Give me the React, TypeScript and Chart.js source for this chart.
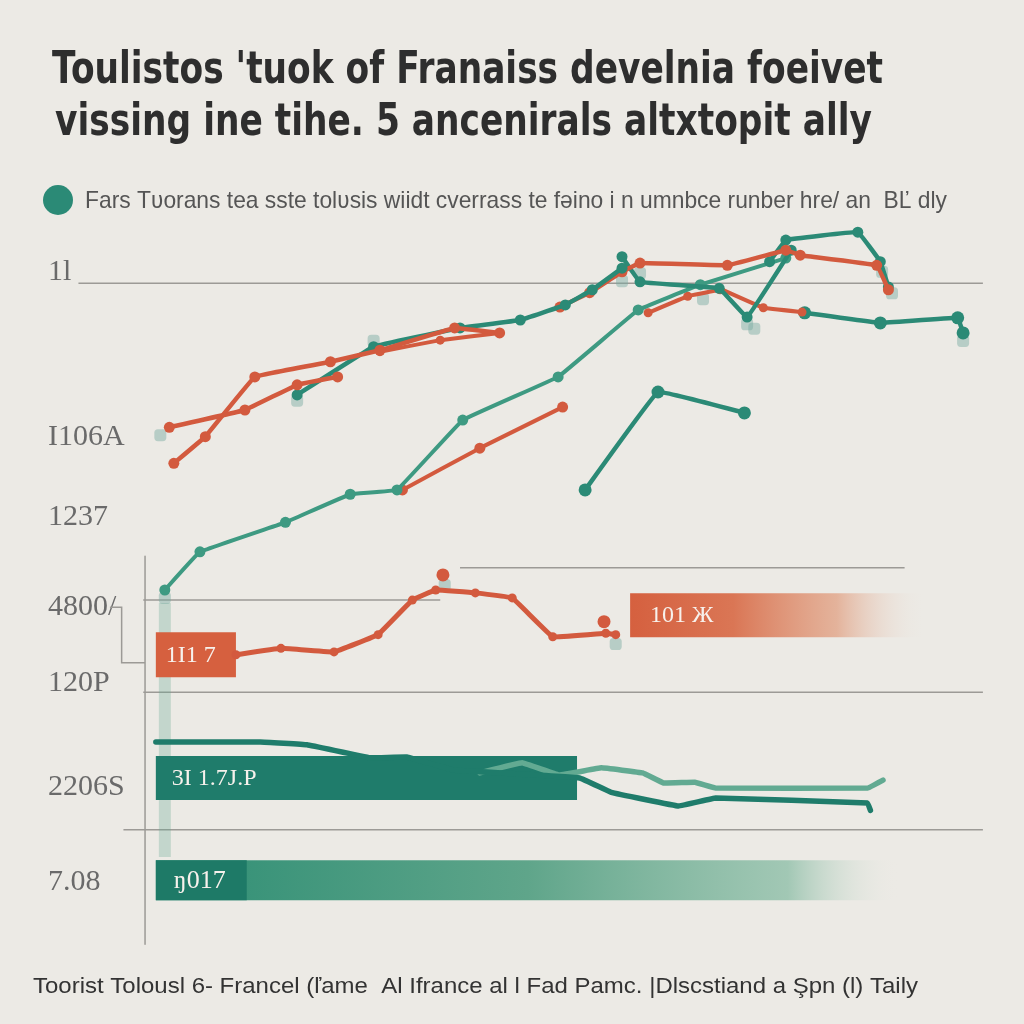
import React, { useEffect, useRef } from "react";
import { Chart, registerables } from "chart.js";

Chart.register(...registerables);

const BG = "#ECEAE5";
const RED = "#D35A3E";
const TEAL = "#1F7C6B";
const TEAL_MID = "#2B8A76";
const TEAL_LIGHT = "#62AA92";
const GRID = "#9C9A96";

const titleLines = [
  "Toulistos 'tuok of Franaiss develnia foeivet",
  "vissing ine tihe. 5 ancenirals altxtopit ally",
];
const legendLabel =
  "Fars Tʋorans tea sste tolʋsis wiidt cverrass te fəino i n umnbce runber hre/ an  BĽ dly";
const caption =
  "Toorist Tolousl 6- Francel (ľame  Al Ifrance al l Fad Pamc. |Dlscstiand a Şpn (l) Taily";

const yTickValues = [94.2, 71.3, 60.1, 47.6, 37.1, 22.6, 9.4];
const yTickLabels = ["1l", "I106A", "1237", "4800/", "120P", "2206S", "7.08"];
const xRange = [4.44, 100];

// line series [x, y]
const redUpperA = [[7.7, 72.6], [16.1, 75.0], [21.9, 78.5], [26.4, 79.6]];
const redUpperB = [[8.2, 67.6], [11.7, 71.3], [17.2, 79.6], [25.6, 81.7], [31.1, 83.3], [39.4, 86.4], [44.4, 85.7]];
const redUpperC = [[31.1, 83.1], [37.8, 84.7], [44.4, 85.7]];
const tealUpperA = [[21.9, 77.1], [30.4, 83.8], [40.0, 86.4], [46.7, 87.5], [51.7, 89.6], [54.7, 91.7], [58.0, 94.7]];
const redTop = [[51.1, 89.3], [54.4, 91.3], [58.0, 94.2], [60.0, 95.4], [69.7, 95.1], [76.2, 97.2], [77.8, 96.5], [86.3, 95.1], [87.6, 91.7]];
const tealTopA = [[58.0, 96.3], [60.0, 92.8], [68.8, 91.9], [71.9, 87.9], [76.8, 97.2]];
const tealTopB = [[74.4, 95.6], [76.2, 98.6], [84.2, 99.7], [86.7, 95.6], [87.6, 92.1]];
const tealLong = [[7.2, 50.0], [11.1, 55.3], [20.6, 59.4], [27.8, 63.3], [33.0, 63.9], [40.3, 73.6], [50.9, 79.6], [59.8, 88.9], [66.7, 92.4], [76.2, 96.1]];
const redShort = [[33.6, 63.9], [42.2, 69.7], [51.4, 75.4]];
const tealShort = [[53.9, 63.9], [62.0, 77.5], [71.6, 74.6]];
const redSmallA = [[60.9, 88.5], [65.3, 90.8], [68.9, 91.7]];
const redSmallB = [[68.8, 91.9], [73.7, 89.2], [78.0, 88.6]];
const tealRight = [[78.3, 88.5], [86.7, 87.1], [95.3, 87.8], [95.9, 85.7]];
const redLower = [[15.1, 41.0], [20.1, 41.9], [26.0, 41.4], [30.9, 43.8], [34.7, 48.6], [37.3, 50.0], [41.7, 49.6], [45.8, 48.9], [50.3, 43.5], [56.2, 44.0], [57.3, 43.8]];
const redLowerMarks = [[38.1, 52.1], [56.0, 45.6]];
const tealLowerDark = [[6.2, 28.9], [17.8, 28.9], [23.0, 28.5], [30.0, 26.7], [34.1, 26.8], [39.3, 25.0], [53.3, 23.9], [56.8, 21.9], [64.3, 20.0], [68.4, 21.1], [85.3, 20.4], [85.6, 19.4]];
const tealLowerLight = [[42.2, 24.6], [46.9, 26.0], [51.0, 24.3], [55.7, 25.3], [60.3, 24.6], [62.6, 23.2], [66.1, 23.3], [68.4, 22.5], [85.3, 22.5], [87.0, 23.6]];
const ghostMarks = [[6.7, 71.5], [21.9, 76.3], [30.4, 84.6], [58.0, 92.9], [60.0, 94.0], [67.0, 90.4], [86.9, 94.2], [88.0, 91.2], [57.3, 42.5], [38.3, 50.7], [7.2, 48.9], [95.9, 84.6], [71.9, 86.9], [72.7, 86.3]];

// floating bars: [xStart, xEnd, y], labels
const redBar = [58.9, 91.7, 46.5];
const redBox = [6.2, 15.1, 41.0];
const tealBand = [6.2, 53.0, 23.9];
const tealBar = [6.2, 88.8, 9.7];
const tealBarHead = [6.2, 16.3, 9.7];
const tealStrip = [7.2, 48.2, 12.9];
const barLabels = ["101 Ж", "1I1 7", "3I 1.7J.P", "ŋ017"];

// rule lines [x0, x1, y]
const rules = [
  [-2.4, 98.1, 92.6],
  [4.8, 37.8, 48.6],
  [40.0, 89.4, 53.1],
  [4.8, 98.1, 35.8],
  [2.6, 98.1, 16.7],
];
const axisLine = [[5.0, 54.7], [5.0, 0.8]];
const bracket = [[1.1, 47.6], [2.4, 47.6], [2.4, 39.9], [5.0, 39.9]];

const pts = (a: number[][]) => a.map(([x, y]) => ({ x, y }));

function lineDs(data: number[][], color: string, width = 4.5, radius = 5.5) {
  return {
    data: pts(data),
    borderColor: color,
    backgroundColor: color,
    pointBackgroundColor: color,
    pointBorderWidth: 0,
    pointRadius: radius,
    borderWidth: width,
    tension: 0.05,
    borderJoinStyle: "round" as const,
    borderCapStyle: "round" as const,
    clip: false as const,
    order: 1,
  };
}

function barDs(bar: number[], thickness: number, color: any, order = 5) {
  return {
    data: [{ x: bar[0], y: bar[2] }, { x: bar[1], y: bar[2] }],
    borderColor: color,
    borderWidth: thickness,
    borderCapStyle: "butt" as const,
    pointRadius: 0,
    tension: 0,
    clip: false as const,
    order,
  };
}

function gradient(bar: number[], stops: [number, string][]) {
  return (ctx: any) => {
    const chart = ctx.chart;
    const xs = chart.scales?.x;
    if (!chart.chartArea || !xs) return stops[0][1];
    const x0 = xs.getPixelForValue(bar[0]);
    const x1 = xs.getPixelForValue(bar[1]);
    const g = chart.ctx.createLinearGradient(x0, 0, x1, 0);
    stops.forEach(([o, c]) => g.addColorStop(o, c));
    return g;
  };
}

function fitText(ctx: CanvasRenderingContext2D, text: string, x: number, y: number, width: number, font: string, color: string) {
  ctx.save();
  ctx.font = font;
  ctx.fillStyle = color;
  ctx.textBaseline = "alphabetic";
  ctx.textAlign = "left";
  const w = ctx.measureText(text).width;
  ctx.translate(x, y);
  ctx.scale(width / w, 1);
  ctx.fillText(text, 0, 0);
  ctx.restore();
}

const decorPlugin = {
  id: "decor",
  beforeDraw(chart: any) {
    const ctx = chart.ctx;
    ctx.save();
    ctx.fillStyle = BG;
    ctx.fillRect(0, 0, chart.width, chart.height);
    ctx.restore();
  },
  afterDraw(chart: any) {
    const ctx: CanvasRenderingContext2D = chart.ctx;
    const xs = chart.scales.x;
    const ys = chart.scales.y;
    // title
    fitText(ctx, titleLines[0], 52, 83, 831, 'bold 44px "DejaVu Sans", sans-serif', "#2E2E2E");
    fitText(ctx, titleLines[1], 55, 135, 817, 'bold 44px "DejaVu Sans", sans-serif', "#2E2E2E");
    // legend
    ctx.save();
    ctx.fillStyle = TEAL_MID;
    ctx.beginPath();
    ctx.arc(58, 200, 15, 0, Math.PI * 2);
    ctx.fill();
    ctx.restore();
    fitText(ctx, legendLabel, 85, 208, 862, '24px "Liberation Sans", sans-serif', "#555555");
    // caption
    fitText(ctx, caption, 33, 993, 885, '22px "Liberation Sans", sans-serif', "#333333");
    // bar labels
    const labelAt = (bar: number[], text: string, pad: number, size: number) => {
      ctx.save();
      ctx.font = `${size}px "Liberation Serif", serif`;
      ctx.fillStyle = "#F7F1EC";
      ctx.textBaseline = "middle";
      ctx.textAlign = "left";
      ctx.fillText(text, xs.getPixelForValue(bar[0]) + pad, ys.getPixelForValue(bar[2]) + 1);
      ctx.restore();
    };
    labelAt(redBar, barLabels[0], 20, 24);
    labelAt(redBox, barLabels[1], 10, 24);
    labelAt(tealBand, barLabels[2], 16, 24);
    labelAt(tealBarHead, barLabels[3], 18, 26);
  },
};

export default function App() {
  const ref = useRef<HTMLCanvasElement | null>(null);

  useEffect(() => {
    document.body.style.background = BG;
    const canvas = ref.current;
    if (!canvas) return;

    const datasets: any[] = [];
    rules.forEach((r) => datasets.push(barDs(r, 1.5, GRID, 30)));
    datasets.push({ ...lineDs(axisLine, GRID, 1.5, 0), order: 30, tension: 0 });
    datasets.push({ ...lineDs(bracket, GRID, 1.5, 0), order: 30, tension: 0, borderCapStyle: "butt", borderJoinStyle: "miter" });

    datasets.push({
      ...barDs([tealStrip[0], tealStrip[0], 0], 12, "rgba(98,170,146,0.3)", 20),
      data: [{ x: tealStrip[0], y: tealStrip[1] }, { x: tealStrip[0], y: tealStrip[2] }],
    });
    datasets.push(
      barDs(redBar, 44, gradient(redBar, [[0, "#D5603F"], [0.35, "#DA7655"], [0.7, "rgba(225,160,130,0.75)"], [1, "rgba(236,234,229,0)"]]), 10)
    );
    datasets.push(barDs(redBox, 45, "#D6603F", 10));
    datasets.push(barDs(tealBand, 44, TEAL, 10));
    datasets.push(
      barDs(tealBar, 40, gradient(tealBar, [[0, "#2E8E74"], [0.5, "#5FA58A"], [0.85, "rgba(130,185,160,0.7)"], [1, "rgba(236,234,229,0)"]]), 11)
    );
    datasets.push(barDs(tealBarHead, 40, "#1E7A67", 9));

    datasets.push({
      data: pts(ghostMarks),
      showLine: false,
      pointStyle: "rectRounded",
      pointRadius: 7,
      pointBackgroundColor: "rgba(120,170,160,0.45)",
      pointBorderWidth: 0,
      clip: false,
      order: 2,
    });

    datasets.push(lineDs(redUpperA, RED));
    datasets.push(lineDs(redUpperB, RED));
    datasets.push(lineDs(redUpperC, RED, 4, 4.5));
    datasets.push(lineDs(tealUpperA, TEAL_MID));
    datasets.push(lineDs(redTop, RED));
    datasets.push(lineDs(tealTopA, TEAL_MID));
    datasets.push(lineDs(tealTopB, TEAL_MID));
    datasets.push(lineDs(tealLong, "#3E9A82", 4, 5.5));
    datasets.push(lineDs(redShort, RED, 4, 5.5));
    datasets.push(lineDs(tealShort, TEAL_MID, 4.5, 6.5));
    datasets.push(lineDs(redSmallA, RED, 4, 4.5));
    datasets.push(lineDs(redSmallB, RED, 4, 4.5));
    datasets.push(lineDs(tealRight, TEAL_MID, 4.5, 6.5));
    datasets.push(lineDs(redLower, RED, 5, 4.5));
    datasets.push({ ...lineDs(redLowerMarks, RED, 0, 6.5), showLine: false });
    datasets.push(lineDs(tealLowerDark, TEAL, 5.5, 0));
    datasets.push(lineDs(tealLowerLight, TEAL_LIGHT, 5.5, 0));

    const setX = (s: any) => {
      s.min = xRange[0];
      s.max = xRange[1];
    };

    const chart = new Chart(canvas, {
      type: "line",
      data: { datasets },
      options: {
        animation: false,
        responsive: false,
        devicePixelRatio: 1,
        layout: { padding: { top: 230, bottom: 74, left: 48, right: 24 } },
        plugins: {
          legend: { display: false },
          tooltip: { enabled: false },
          title: { display: false },
        },
        scales: {
          x: {
            type: "linear",
            display: false,
            bounds: "data",
            afterDataLimits: setX,
            afterBuildTicks: setX,
          },
          y: {
            type: "linear",
            min: 0,
            max: 100,
            position: "left",
            afterFit: (s: any) => {
              s.width = 92;
            },
            afterBuildTicks: (s: any) => {
              s.ticks = yTickValues.map((v) => ({ value: v }));
            },
            grid: { display: false },
            border: { display: false },
            ticks: {
              autoSkip: false,
              crossAlign: "far",
              padding: 0,
              color: "#6A6A6A",
              font: { family: '"Liberation Serif", serif', size: 30 },
              callback: (_v: any, i: number) => yTickLabels[i],
            },
          },
        },
      } as any,
      plugins: [decorPlugin],
    });
    return () => chart.destroy();
  }, []);

  return (
    <div style={{ position: "absolute", left: 0, top: 0, width: 1024, height: 1024, background: BG }}>
      <canvas ref={ref} width={1024} height={1024} style={{ display: "block", width: 1024, height: 1024 }} />
    </div>
  );
}
